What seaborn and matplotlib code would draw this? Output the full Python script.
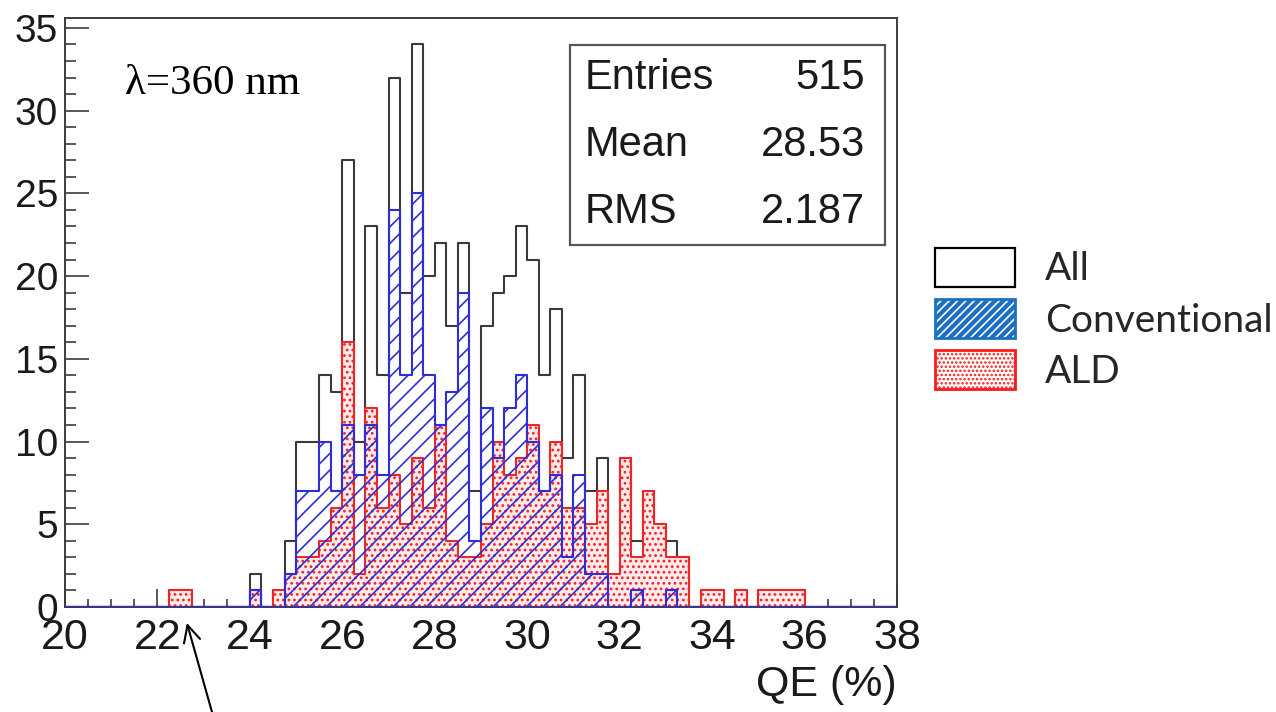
import numpy as np
import pandas as pd
import matplotlib
matplotlib.use("Agg")
import matplotlib.pyplot as plt
from matplotlib.patches import Patch, Rectangle
from matplotlib.legend_handler import HandlerTuple
from matplotlib.ticker import MultipleLocator
import seaborn as sns

# 72 bins of 0.25 % between QE = 20 % and 38 %
bin_edges = [round(20.0 + 0.25 * k, 2) for k in range(73)]
bin_centers = [lo + 0.125 for lo in bin_edges[:-1]]

# Entries per bin
all_counts = [
    0, 0, 0, 0, 0, 0, 0, 0, 0, 1, 1, 0,
    0, 0, 0, 0, 2, 0, 1, 4, 10, 10, 14, 13,
    27, 10, 23, 14, 32, 19, 34, 20, 22, 17, 22, 7,
    17, 19, 20, 23, 21, 14, 18, 9, 14, 7, 9, 2,
    9, 4, 7, 5, 4, 3, 0, 1, 1, 0, 1, 0,
    1, 1, 1, 1, 0, 0, 0, 0, 0, 0, 0, 0,
]
conventional_counts = [
    0, 0, 0, 0, 0, 0, 0, 0, 0, 0, 0, 0,
    0, 0, 0, 0, 1, 0, 0, 2, 7, 7, 10, 7,
    11, 8, 11, 8, 24, 14, 25, 14, 11, 13, 19, 4,
    12, 9, 12, 14, 10, 7, 8, 3, 8, 2, 2, 0,
    0, 1, 0, 0, 1, 0, 0, 0, 0, 0, 0, 0,
    0, 0, 0, 0, 0, 0, 0, 0, 0, 0, 0, 0,
]
ald_counts = [
    0, 0, 0, 0, 0, 0, 0, 0, 0, 1, 1, 0,
    0, 0, 0, 0, 1, 0, 1, 2, 3, 3, 4, 6,
    16, 2, 12, 6, 8, 5, 9, 6, 11, 4, 3, 3,
    5, 10, 8, 9, 11, 7, 10, 6, 6, 5, 7, 2,
    9, 3, 7, 5, 3, 3, 0, 1, 1, 0, 1, 0,
    1, 1, 1, 1, 0, 0, 0, 0, 0, 0, 0, 0,
]

series_labels = ["All", "Conventional", "ALD"]
stat_names = ["Entries", "Mean", "RMS"]
stat_values = ["515", "28.53", "2.187"]
wavelength_label = "λ=360 nm"
x_label = "QE (%)"

hist_table = pd.DataFrame({
    "qe": bin_centers,
    "all": all_counts,
    "conventional": conventional_counts,
    "ald": ald_counts,
})

sns.set_style("white")
plt.rcParams["font.family"] = ["Liberation Sans", "DejaVu Sans"]
plt.rcParams["hatch.linewidth"] = 1.2

W, H = 1276, 712
fig = plt.figure(figsize=(W / 100, H / 100), dpi=100)
ax = fig.add_axes([65 / W, 105 / H, 832 / W, 589 / H])

frame_color = "#3c3c3c"
gray = "#3a3a3a"
blue = "#2e2ed8"
red = "#f02626"

# outline of the full sample, then the two coating types on top
sns.histplot(data=hist_table, x="qe", weights="all", bins=bin_edges,
             element="step", fill=True, color=gray, facecolor="none",
             edgecolor=gray, linewidth=1.5, ax=ax, zorder=2)
sns.histplot(data=hist_table, x="qe", weights="ald", bins=bin_edges,
             element="step", fill=True, color=red, facecolor="#fdeaea",
             edgecolor=red, hatch="...", linewidth=1.5, ax=ax, zorder=3)
sns.histplot(data=hist_table, x="qe", weights="conventional", bins=bin_edges,
             element="step", fill=True, color=blue, facecolor="none",
             edgecolor=blue, hatch="//", linewidth=1.5, ax=ax, zorder=4)

ax.set_xlim(20, 38)
ax.set_ylim(0, 35.6)
ax.xaxis.set_major_locator(MultipleLocator(2))
ax.xaxis.set_minor_locator(MultipleLocator(0.5))
ax.yaxis.set_major_locator(MultipleLocator(5))
ax.yaxis.set_minor_locator(MultipleLocator(1))
ax.tick_params(axis="both", which="both", direction="in", bottom=True,
               left=True, top=False, right=False, color=frame_color,
               width=1.2, labelcolor="#1a1a1a")
ax.tick_params(axis="x", which="major", length=13, labelsize=31, pad=8)
ax.tick_params(axis="x", which="minor", length=6)
ax.tick_params(axis="y", which="major", length=17, labelsize=28, pad=5)
ax.tick_params(axis="y", which="minor", length=8)
for side in ax.spines.values():
    side.set_color(frame_color)
    side.set_linewidth(1.4)
ax.set_ylabel("")
ax.set_xlabel(x_label, loc="right", fontsize=31, labelpad=5, color="#1a1a1a")

# statistics box
ax.add_patch(Rectangle((0.607, 0.615), 0.3786, 0.339, transform=ax.transAxes,
                       facecolor="white", edgecolor="#555555", linewidth=1.6,
                       zorder=6))
for k, (name, value) in enumerate(zip(stat_names, stat_values)):
    yy = 0.898 - k * 0.1138
    ax.text(0.625, yy, name, transform=ax.transAxes, fontsize=30,
            va="center", ha="left", color="#1a1a1a", zorder=7)
    ax.text(0.9615, yy, value, transform=ax.transAxes, fontsize=30,
            va="center", ha="right", color="#1a1a1a", zorder=7)

ax.text(0.072, 0.889, wavelength_label, transform=ax.transAxes, fontsize=31,
        family=["Liberation Serif", "DejaVu Serif"], va="center", ha="left",
        color="black")

# arrow pointing at the low-QE ALD entries
ax.annotate("", xy=(22.62, -0.8), xycoords="data",
            xytext=(214 / W, -0.01), textcoords="figure fraction",
            annotation_clip=False,
            arrowprops=dict(arrowstyle="->", lw=1.5, color="black",
                            mutation_scale=30))

legend_blue = "#1c70c4"
legend_red = "#ff1a1a"
handles = [
    Patch(facecolor="white", edgecolor="black", linewidth=1.6),
    (Patch(facecolor=legend_blue, edgecolor="white", hatch="////", linewidth=0),
     Patch(facecolor="none", edgecolor=legend_blue, linewidth=2)),
    (Patch(facecolor="white", edgecolor=legend_red, hatch="....", linewidth=0),
     Patch(facecolor="none", edgecolor=legend_red, linewidth=2)),
]
fig.legend(handles, series_labels, loc="upper left",
           bbox_to_anchor=(935 / W, 1 - 248 / H), frameon=False,
           prop={"family": ["Lato", "DejaVu Sans"], "size": 28},
           handlelength=2.06, handleheight=1.15, handletextpad=0.77,
           labelspacing=0.3, borderpad=0, borderaxespad=0,
           handler_map={tuple: HandlerTuple(ndivide=1, pad=0)})

fig.savefig("out.png", dpi=100)
